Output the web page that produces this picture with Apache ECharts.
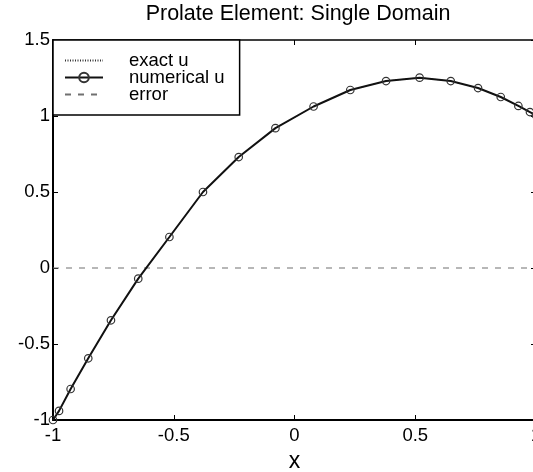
<!DOCTYPE html>
<html>
<head>
<meta charset="utf-8">
<script src="https://cdn.jsdelivr.net/npm/echarts@6/dist/echarts.min.js"></script>
<style>
html,body{margin:0;padding:0;background:#fff;}
#c{width:533px;height:472px;}
</style>
</head>
<body>
<div id="c"></div>
<script>
// ---- data ----
var titleText = 'Prolate Element: Single Domain';
var xLabel = 'x';
var seriesNames = ['exact u', 'numerical u', 'error'];
var xNodes = [-1, -0.975, -0.927, -0.854, -0.760, -0.647, -0.518, -0.379, -0.231, -0.079,
              0.079, 0.231, 0.379, 0.518, 0.647, 0.760, 0.854, 0.927, 0.975, 1];
var exactU = [-1, -0.94, -0.796, -0.594, -0.344, -0.07, 0.204, 0.50, 0.73, 0.92,
              1.0625, 1.171, 1.230, 1.252, 1.230, 1.184, 1.125, 1.066, 1.026, 1.005];
var numericalU = [-1, -0.94, -0.796, -0.594, -0.344, -0.07, 0.204, 0.50, 0.73, 0.92,
              1.0625, 1.171, 1.230, 1.252, 1.230, 1.184, 1.125, 1.066, 1.026, 1.005];
var errorVals = [0, 0, 0, 0, 0, 0, 0, 0, 0, 0, 0, 0, 0, 0, 0, 0, 0, 0, 0, 0];
var xTicks = {min: -1, max: 1, step: 0.5};
var yTicks = {min: -1, max: 1.5, step: 0.5};

function pairs(xs, ys) { return xs.map(function (x, i) { return [x, ys[i]]; }); }

var FONT = 'Liberation Sans, Arial, Helvetica, sans-serif';
var chart = echarts.init(document.getElementById('c'), null, {renderer: 'canvas'});

var axisCommon = {
  type: 'value',
  splitLine: {show: false},
  axisTick: {show: true, inside: true, length: 5, lineStyle: {color: '#000', width: 1}},
  axisLine: {show: true, onZero: false, lineStyle: {color: '#000', width: 1.5}}
};

chart.setOption({
  animation: false,
  backgroundColor: '#fff',
  textStyle: {fontFamily: FONT},
  title: {
    text: titleText,
    left: 298, top: 3, padding: 0,
    textAlign: 'center',
    textStyle: {fontFamily: FONT, fontSize: 21.5, fontWeight: 'normal', color: '#000'}
  },
  grid: {left: 53, top: 40, width: 483, height: 380, containLabel: false, outerBoundsMode: 'none'},
  legend: {
    orient: 'vertical',
    left: 53, top: 40,
    padding: [11, 15, 11, 11],
    backgroundColor: '#fff',
    borderColor: '#000', borderWidth: 1.5,
    itemWidth: 38, itemHeight: 12, itemGap: -2,
    data: [
      {name: seriesNames[0], itemStyle: {opacity: 0}},
      {name: seriesNames[1]},
      {name: seriesNames[2], itemStyle: {opacity: 0}}
    ],
    textStyle: {fontFamily: FONT, fontSize: 18.5, color: '#000', padding: [0, 0, 0, 21]}
  },
  xAxis: [
    Object.assign({}, axisCommon, {
      position: 'bottom', min: xTicks.min, max: xTicks.max, interval: xTicks.step,
      name: xLabel, nameLocation: 'middle', nameGap: 30,
      nameTextStyle: {fontFamily: FONT, fontSize: 23, color: '#000'},
      axisLabel: {fontFamily: FONT, fontSize: 18.5, color: '#000', margin: 6},
      axisLine: {show: true, onZero: false, lineStyle: {color: '#000', width: 2}}
    }),
    Object.assign({}, axisCommon, {
      position: 'top', min: xTicks.min, max: xTicks.max, interval: xTicks.step,
      axisLabel: {show: false}
    })
  ],
  yAxis: [
    Object.assign({}, axisCommon, {
      position: 'left', min: yTicks.min, max: yTicks.max, interval: yTicks.step,
      axisLabel: {fontFamily: FONT, fontSize: 18.5, color: '#000', margin: 3},
      axisLine: {show: true, onZero: false, lineStyle: {color: '#000', width: 2}}
    }),
    Object.assign({}, axisCommon, {
      position: 'right', min: yTicks.min, max: yTicks.max, interval: yTicks.step,
      axisLabel: {show: false}
    })
  ],
  series: [
    {
      name: seriesNames[0], type: 'line', xAxisIndex: 0, yAxisIndex: 0,
      data: pairs(xNodes, exactU), symbol: 'none', z: 2,
      lineStyle: {color: '#333', width: 1, type: [1, 1.5]},
      itemStyle: {color: '#333'}
    },
    {
      name: seriesNames[1], type: 'line', xAxisIndex: 0, yAxisIndex: 0,
      data: pairs(xNodes, numericalU), symbol: 'circle', symbolSize: 7.5, z: 3,
      lineStyle: {color: '#111', width: 2},
      itemStyle: {color: 'rgba(255,255,255,0)', borderColor: '#333', borderWidth: 1.2}
    },
    {
      name: seriesNames[2], type: 'line', xAxisIndex: 0, yAxisIndex: 0,
      data: pairs(xNodes, errorVals), symbol: 'none', z: 1,
      lineStyle: {color: '#707070', width: 1.2, type: [6, 7]},
      itemStyle: {color: '#707070'}
    }
  ]
});
</script>
</body>
</html>
